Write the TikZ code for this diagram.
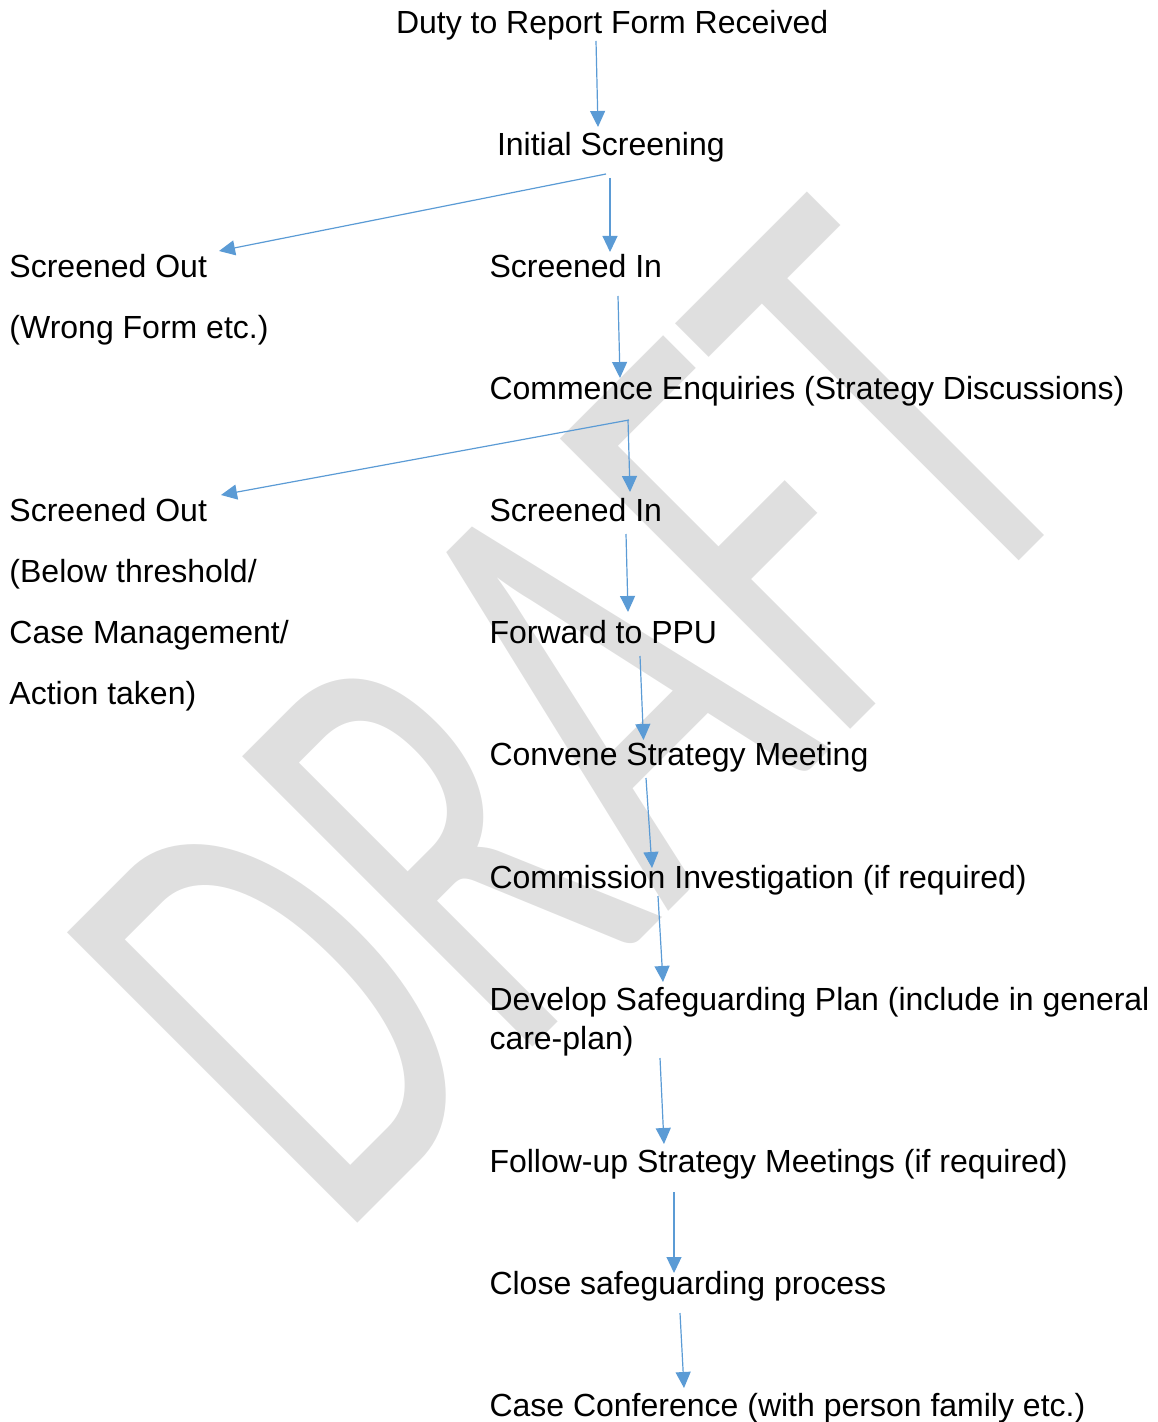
\documentclass[tikz,border=0pt]{standalone}
\usepackage{fontspec}
\setmainfont{Liberation Sans}
\newfontfamily\wmfont{Carlito}
\usetikzlibrary{arrows.meta}
\definecolor{arrowblue}{HTML}{5B9BD5}
\definecolor{wmgray}{HTML}{DFDFDF}
\begin{document}
\begin{tikzpicture}[x=0.5pt,y=-0.5pt,
  lbl/.style={anchor=base west, inner sep=0pt, outer sep=0pt, font=\fontsize{16pt}{19pt}\selectfont},
  flow/.style={draw=arrowblue, line width=0.6pt, -{Triangle[length=8pt,width=7.5pt,fill=arrowblue]}}]
\useasboundingbox (0,0) rectangle (1157,1422);
% watermark
\node[rotate=45, anchor=base west, inner sep=0pt, outer sep=0pt, text=wmgray] (wm) at (338,1242)
  {\resizebox{539pt}{205pt}{\wmfont DRAFT}};
% texts
\node[lbl] (duty)   at (396,33.5)   {Duty to Report Form Received};
\node[lbl] (init)   at (497,155.5)  {Initial Screening};
\node[lbl] (sout1)  at (9.5,277.5)  {Screened Out};
\node[lbl] (wrong)  at (9.5,338.5)  {(Wrong Form etc.)};
\node[lbl] (sin1)   at (489.5,277.5) {Screened In};
\node[lbl] (comm)   at (489.5,399.5) {Commence Enquiries (Strategy Discussions)};
\node[lbl] (sout2)  at (9.5,521.5)  {Screened Out};
\node[lbl] (below)  at (9.5,582.5)  {(Below threshold/};
\node[lbl] (casem)  at (9.5,643.5)  {Case Management/};
\node[lbl] (action) at (9.5,704.5)  {Action taken)};
\node[lbl] (sin2)   at (489.5,521.5) {Screened In};
\node[lbl] (ppu)    at (489.5,643.5) {Forward to PPU};
\node[lbl] (conv)   at (489.5,765.5) {Convene Strategy Meeting};
\node[lbl] (commi)  at (489.5,888.5) {Commission Investigation (if required)};
\node[lbl] (dev)    at (489.5,1010.5) {Develop Safeguarding Plan (include in general};
\node[lbl] (devb)   at (489.5,1049.5) {care-plan)};
\node[lbl] (fol)    at (489.5,1172.5) {Follow-up Strategy Meetings (if required)};
\node[lbl] (close)  at (489.5,1294.5) {Close safeguarding process};
\node[lbl] (conf)   at (489.5,1416.5) {Case Conference (with person family etc.)};
% connector end points
\coordinate (duty-o)  at (596,41);    \coordinate (init-i)  at (598,127);
\coordinate (init-o1) at (606,174);   \coordinate (sout1-i) at (219,251);
\coordinate (init-o2) at (610,178);   \coordinate (sin1-i)  at (610,252);
\coordinate (sin1-o)  at (618,296);   \coordinate (comm-i)  at (620,378);
\coordinate (comm-o1) at (629,420);   \coordinate (sout2-i) at (221,495);
\coordinate (comm-o2) at (628,420);   \coordinate (sin2-i)  at (630,492);
\coordinate (sin2-o)  at (626,534);   \coordinate (ppu-i)   at (628,612);
\coordinate (ppu-o)   at (640,656);   \coordinate (conv-i)  at (643.5,740);
\coordinate (conv-o)  at (646,778);   \coordinate (commi-i) at (652,868);
\coordinate (commi-o) at (658,896);   \coordinate (dev-i)   at (663,982);
\coordinate (dev-o)   at (660,1058);  \coordinate (fol-i)   at (664,1144);
\coordinate (fol-o)   at (674,1192);  \coordinate (close-i) at (674,1273);
\coordinate (close-o) at (680,1313);  \coordinate (conf-i)  at (684,1388);
% connectors
\draw[flow] (duty-o) -- (init-i);
\draw[flow] (init-o1) -- (sout1-i);
\draw[flow] (init-o2) -- (sin1-i);
\draw[flow] (sin1-o) -- (comm-i);
\draw[flow] (comm-o1) -- (sout2-i);
\draw[flow] (comm-o2) -- (sin2-i);
\draw[flow] (sin2-o) -- (ppu-i);
\draw[flow] (ppu-o) -- (conv-i);
\draw[flow] (conv-o) -- (commi-i);
\draw[flow] (commi-o) -- (dev-i);
\draw[flow] (dev-o) -- (fol-i);
\draw[flow] (fol-o) -- (close-i);
\draw[flow] (close-o) -- (conf-i);
\end{tikzpicture}
\end{document}
